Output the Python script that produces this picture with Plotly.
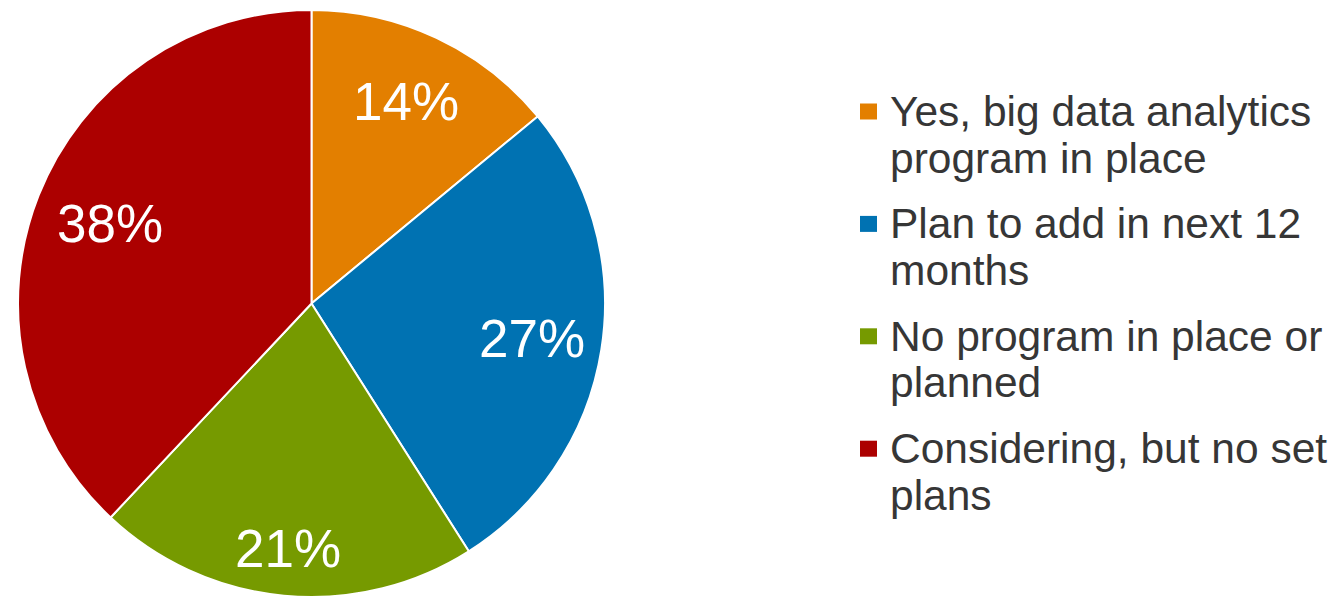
import math
import plotly.graph_objects as go

# Survey shares for big data analytics adoption
categories = [
    "Yes, big data analytics program in place",
    "Plan to add in next 12 months",
    "No program in place or planned",
    "Considering, but no set plans",
]
legend_lines = [
    ["Yes, big data analytics", "program in place"],
    ["Plan to add in next 12", "months"],
    ["No program in place or", "planned"],
    ["Considering, but no set", "plans"],
]
values = [14, 27, 21, 38]
colors = ["#E37F00", "#0072B2", "#769A00", "#AC0000"]
# how far out from the centre each percentage label sits (fraction of radius)
label_radius = [0.76, 0.76, 0.84, 0.74]

W, H = 1338, 602
FONT = "Liberation Sans, Arial, sans-serif"

# pie placement in pixels (from the top-left corner of the page)
cx, cy, r = 311.5, 303.5, 293.5

fig = go.Figure()
fig.add_trace(go.Pie(
    labels=categories,
    values=values,
    sort=False,
    direction="clockwise",
    rotation=0,
    marker=dict(colors=colors, line=dict(color="white", width=2)),
    textinfo="none",
    domain=dict(x=[(cx - r) / W, (cx + r) / W],
                y=[1 - (cy + r) / H, 1 - (cy - r) / H]),
    showlegend=False,
    hoverinfo="label+percent",
))

annotations = []
shapes = []

# percentage labels at each slice's mid-angle (clockwise from 12 o'clock)
total = sum(values)
cum = 0
for v, f in zip(values, label_radius):
    mid = (cum + v / 2) / total * 2 * math.pi
    cum += v
    px = cx + f * r * math.sin(mid)
    py = cy - f * r * math.cos(mid)
    annotations.append(dict(
        text=f"{v}%", xref="paper", yref="paper",
        x=px / W, y=1 - py / H, xanchor="center", yanchor="middle",
        showarrow=False,
        font=dict(family=FONT, size=53, color="white"),
    ))

# hand-built legend on the right: square swatch plus wrapped text lines
first_line_y = 111.5
item_step = 112.4
line_step = 46.5
for i, (lines, col) in enumerate(zip(legend_lines, colors)):
    y0 = first_line_y + i * item_step
    shapes.append(dict(
        type="rect", xref="paper", yref="paper",
        x0=860 / W, x1=877 / W,
        y0=1 - (y0 + 8) / H, y1=1 - (y0 - 8) / H,
        fillcolor=col, line=dict(width=0),
    ))
    for j, txt in enumerate(lines):
        yy = y0 + j * line_step
        annotations.append(dict(
            text=txt, xref="paper", yref="paper",
            x=888 / W, y=1 - yy / H, xanchor="left", yanchor="middle",
            showarrow=False,
            font=dict(family=FONT, size=42.5, color="#363636"),
        ))

fig.update_layout(
    width=W, height=H,
    margin=dict(l=0, r=0, t=0, b=0),
    paper_bgcolor="white",
    plot_bgcolor="white",
    shapes=shapes,
    annotations=annotations,
)

fig.write_html("out.html", config={"displayModeBar": False})
